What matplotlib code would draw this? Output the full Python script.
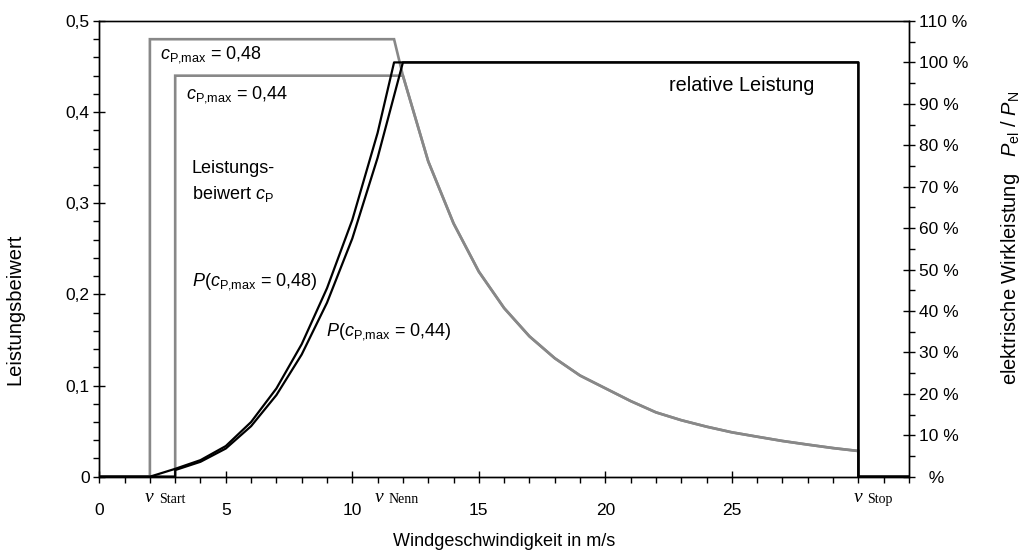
import matplotlib
matplotlib.use("Agg")
import matplotlib.pyplot as plt
from matplotlib.ticker import MultipleLocator, FuncFormatter
import matplotlib.transforms as mtransforms

plt.rcParams['font.family'] = ['Liberation Sans', 'DejaVu Sans']
plt.rcParams['mathtext.fontset'] = 'custom'
plt.rcParams['mathtext.rm'] = 'Liberation Sans'
plt.rcParams['mathtext.it'] = 'Liberation Sans:italic'

# Leistungsbeiwert cP (gemeinsamer Abfall oberhalb Nennleistung)
cp_tail_v = [12, 13, 14, 15, 16, 17, 18, 19, 20, 21, 22, 23, 24, 25, 26, 27, 28, 29, 30]
cp_tail = [0.44, 0.346, 0.278, 0.225, 0.185, 0.154, 0.130, 0.111, 0.097, 0.083,
           0.0706, 0.062, 0.0549, 0.0487, 0.0439, 0.0392, 0.0352, 0.0314, 0.0282]
cp48_v = [0, 2, 2, 11.65] + cp_tail_v + [30, 32]
cp48 = [0, 0, 0.48, 0.48] + cp_tail + [0, 0]
cp44_v = [0, 3, 3] + cp_tail_v + [30, 32]
cp44 = [0, 0, 0.44] + cp_tail + [0, 0]

# relative Leistung in %
p48_v = [0, 2, 3, 4, 5, 6, 7, 8, 9, 10, 11, 11.65, 30, 30, 32]
p48 = [0, 0, 1.9, 4.0, 7.4, 13.2, 21.3, 32, 45.5, 62, 83, 100, 100, 0, 0]
p44_v = [0, 3, 3, 4, 5, 6, 7, 8, 9, 10, 11, 12, 30, 30, 32]
p44 = [0, 0, 1.6, 3.6, 6.8, 12.2, 19.7, 29.5, 42, 57.5, 77, 100, 100, 0, 0]

v_marks = [1.8, 10.9, 29.8]
v_names = ['Start', 'Nenn', 'Stop']

fig = plt.figure(figsize=(10.32, 5.58), dpi=100)
ax = fig.add_axes([0.0962, 0.1457, 0.7846, 0.8167])
ax2 = ax.twinx()

gray = '#888888'
ax.plot(cp48_v, cp48, color=gray, lw=1.9, solid_joinstyle='miter')
ax.plot(cp44_v, cp44, color=gray, lw=1.9, solid_joinstyle='miter')
ax2.plot(p48_v, p48, color='black', lw=1.6, solid_joinstyle='round')
ax2.plot(p44_v, p44, color='black', lw=1.6, solid_joinstyle='round')

ax.set_xlim(0, 32)
ax.set_ylim(0, 0.5)
ax2.set_ylim(0, 110)

fs = 12.5
ax.xaxis.set_major_locator(MultipleLocator(5))
ax.xaxis.set_minor_locator(MultipleLocator(1))
ax.yaxis.set_major_locator(MultipleLocator(0.1))
ax.yaxis.set_minor_locator(MultipleLocator(0.02))
ax2.yaxis.set_major_locator(MultipleLocator(10))
ax2.yaxis.set_minor_locator(MultipleLocator(5))

ax.xaxis.set_major_formatter(FuncFormatter(lambda v, p: '%d' % v if v <= 25 else ''))
ax.yaxis.set_major_formatter(FuncFormatter(lambda v, p: '0' if abs(v) < 1e-9 else ('%.1f' % v).replace('.', ',')))
ax2.yaxis.set_major_formatter(FuncFormatter(lambda v, p: '  %' if abs(v) < 1e-9 else '%d %%' % v))

ax.tick_params(axis='x', which='major', direction='inout', length=8, width=1, labelsize=fs, pad=15)
ax.tick_params(axis='x', which='minor', direction='out', length=4, width=1)
ax.tick_params(axis='y', which='major', direction='inout', length=8, width=1, labelsize=fs, pad=3)
ax.tick_params(axis='y', which='minor', direction='out', length=4, width=1)
ax2.tick_params(axis='y', which='major', direction='inout', length=8, width=1, labelsize=fs, pad=3)
ax2.tick_params(axis='y', which='minor', direction='out', length=4, width=1)
for a in (ax, ax2):
    for s in a.spines.values():
        s.set_linewidth(1.0)
ax.spines['top'].set_color('#444444')

ax.set_xlabel('Windgeschwindigkeit in m/s', fontsize=13, labelpad=11)
ax.set_ylabel('Leistungsbeiwert', fontsize=14.5)
ax.yaxis.set_label_coords(-0.093, 0.368)
ax2.set_ylabel(r'elektrische Wirkleistung   $P_{\mathrm{el}}$ / $P_{\mathrm{N}}$', fontsize=14.5)
ax2.yaxis.set_label_coords(1.111, 0.525)

# Beschriftungen der Windgeschwindigkeiten unter der Achse
trans = mtransforms.blended_transform_factory(ax.transData, ax.transAxes)
for x, name in zip(v_marks, v_names):
    ax.text(x, -0.045, 'v', transform=trans, fontsize=14, family='Liberation Serif',
            style='italic', ha='left', va='center')
    ax.annotate(name, xy=(x, -0.045), xycoords=trans, xytext=(10, -2), textcoords='offset points',
                fontsize=10, family='Liberation Serif', ha='left', va='center')

tfs = 13
cpmax = r'$c_{\mathrm{P{,}max}}$'
ax.text(2.4, 0.463, cpmax + ' = 0,48', fontsize=tfs, va='center', ha='left')
ax.text(3.42, 0.419, cpmax + ' = 0,44', fontsize=tfs, va='center', ha='left')
ax.text(3.65, 0.338, 'Leistungs-', fontsize=tfs, va='center', ha='left')
ax.text(3.65, 0.31, r'beiwert $c_{\mathrm{P}}$', fontsize=tfs, va='center', ha='left')
ax.text(3.65, 0.214, r'$P$(' + cpmax + ' = 0,48)', fontsize=tfs, va='center', ha='left')
ax.text(8.95, 0.159, r'$P$(' + cpmax + ' = 0,44)', fontsize=tfs, va='center', ha='left')
ax.text(22.5, 0.4296, 'relative Leistung', fontsize=14.3, va='center', ha='left')

fig.savefig('out.png', dpi=100)
